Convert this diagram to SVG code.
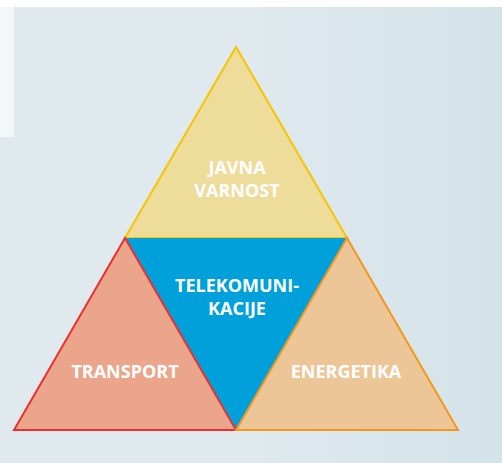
<svg xmlns="http://www.w3.org/2000/svg" width="502" height="463" viewBox="0 0 502 463">
<defs>
<linearGradient id="bg" x1="0" y1="0" x2="1" y2="0">
<stop offset="0" stop-color="#e0e9ee"/>
<stop offset="0.5" stop-color="#dfe9ee"/>
<stop offset="1" stop-color="#d3e3e9"/>
</linearGradient>
<style>
.t{font-family:"Open Sans","Liberation Sans",sans-serif;font-weight:bold;font-size:18px;fill:#ffffff;text-anchor:middle}
</style>
</defs>
<rect width="502" height="463" fill="url(#bg)"/>
<rect width="502" height="7" fill="#ffffff"/>
<rect x="0" y="7" width="14" height="130" fill="#f3f7f9"/>
<g id="javna-varnost">
<polygon points="236,47 125,238 347,238" fill="#eedc9b" stroke="#f6c400" stroke-width="2" stroke-linejoin="miter"/>
<text class="t" x="237" y="174">JAVNA</text>
<text class="t" x="237" y="197">VARNOST</text>
</g>
<g id="telekomunikacije">
<polygon points="125,238 347,238 236,430" fill="#00a0da"/>
<text class="t" x="237" y="292">TELEKOMUNI-</text>
<text class="t" x="237" y="315">KACIJE</text>
</g>
<g id="transport">
<polygon points="125,238 14,430 236,430" fill="#eaa58b" stroke="#ec2f2f" stroke-width="2"/>
<text class="t" x="125" y="378">TRANSPORT</text>
</g>
<g id="energetika">
<polygon points="347,238 236,430 458,430" fill="#edc698" stroke="#f5961d" stroke-width="2"/>
<text class="t" x="346" y="378">ENERGETIKA</text>
</g>
<g id="connectors"/>
</svg>
